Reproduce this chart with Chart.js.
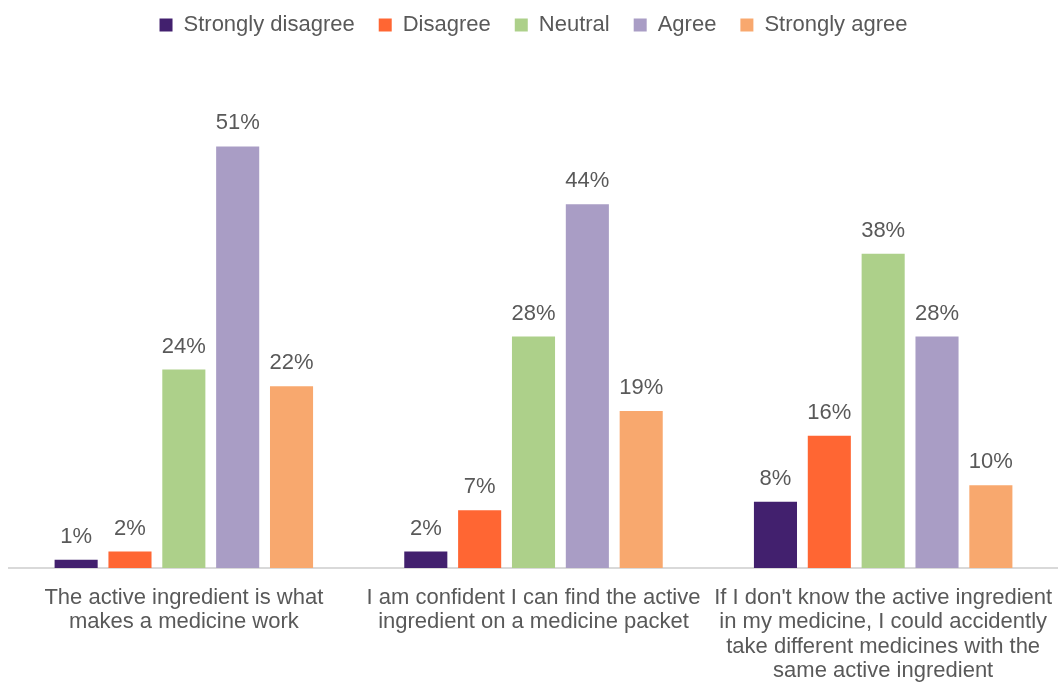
<!DOCTYPE html>
<html>
<head>
<meta charset="utf-8">
<script src="https://cdn.jsdelivr.net/npm/chart.js@4/dist/chart.umd.min.js"></script>
<style>
    html, body { margin: 0; padding: 0; background: #ffffff; }
    #wrap { width: 1058px; height: 683px; }
</style>
</head>
<body>
<div id="wrap"><canvas id="surveyChart" width="1058" height="683"></canvas></div>
<script>
// Survey statements (x axis), one line per array entry
const statements = [
    ["The active ingredient is what", "makes a medicine work"],
    ["I am confident I can find the active", "ingredient on a medicine packet"],
    ["If I don't know the active ingredient", "in my medicine, I could accidently", "take different medicines with the", "same active ingredient"]
];

// Share of respondents per answer, in percent
const stronglyDisagree = [1, 2, 8];
const disagree = [2, 7, 16];
const neutral = [24, 28, 38];
const agree = [51, 44, 28];
const stronglyAgree = [22, 19, 10];

const answerLabels = ["Strongly disagree", "Disagree", "Neutral", "Agree", "Strongly agree"];
const answerColours = ["#42206e", "#ff6633", "#add08a", "#a99dc5", "#f8a86e"];

const textColour = "#595959";
const fontFamily = "'Liberation Sans', Arial, sans-serif";

// Write the percentage above each bar
const valueLabels = {
    id: 'valueLabels',
    afterDatasetsDraw(chart) {
        const ctx = chart.ctx;
        ctx.save();
        ctx.font = "22px " + fontFamily;
        ctx.fillStyle = textColour;
        ctx.textAlign = 'center';
        ctx.textBaseline = 'middle';
        chart.data.datasets.forEach((ds, i) => {
            chart.getDatasetMeta(i).data.forEach((bar, j) => {
                ctx.fillText(ds.data[j] + '%', bar.x, bar.y - 23);
            });
        });
        ctx.restore();
    }
};

// Leave some empty space between the legend and the bars
const legendGap = {
    id: 'legendGap',
    beforeInit(chart) {
        const fit = chart.legend.fit;
        chart.legend.fit = function () {
            fit.call(this);
            this.height += 26;
        };
    }
};

const seriesValues = [stronglyDisagree, disagree, neutral, agree, stronglyAgree];

new Chart(document.getElementById('surveyChart').getContext('2d'), {
    type: 'bar',
    data: {
        labels: statements,
        datasets: answerLabels.map((name, i) => ({
            label: name,
            data: seriesValues[i],
            backgroundColor: answerColours[i],
            categoryPercentage: 0.77,
            barPercentage: 0.8
        }))
    },
    options: {
        responsive: false,
        animation: false,
        layout: { padding: { left: 9, right: 0, top: -10, bottom: 0 } },
        plugins: {
            legend: {
                position: 'top',
                labels: {
                    color: textColour,
                    font: { family: fontFamily, size: 22 },
                    boxWidth: 13,
                    boxHeight: 13,
                    padding: 24
                }
            },
            tooltip: { enabled: false }
        },
        scales: {
            x: {
                grid: { display: false },
                border: { display: true, color: '#d9d9d9', width: 2 },
                ticks: {
                    color: textColour,
                    font: { family: fontFamily, size: 22, lineHeight: 1.1 },
                    maxRotation: 0,
                    minRotation: 0,
                    autoSkip: false,
                    padding: 10
                },
                afterFit(scale) {
                    // fixed label band; long labels may run past the canvas edge
                    scale.height = 115;
                    scale.paddingLeft = 0;
                    scale.paddingRight = 0;
                }
            },
            y: {
                display: false,
                min: 0,
                max: 60
            }
        }
    },
    plugins: [valueLabels, legendGap]
});
</script>
</body>
</html>
